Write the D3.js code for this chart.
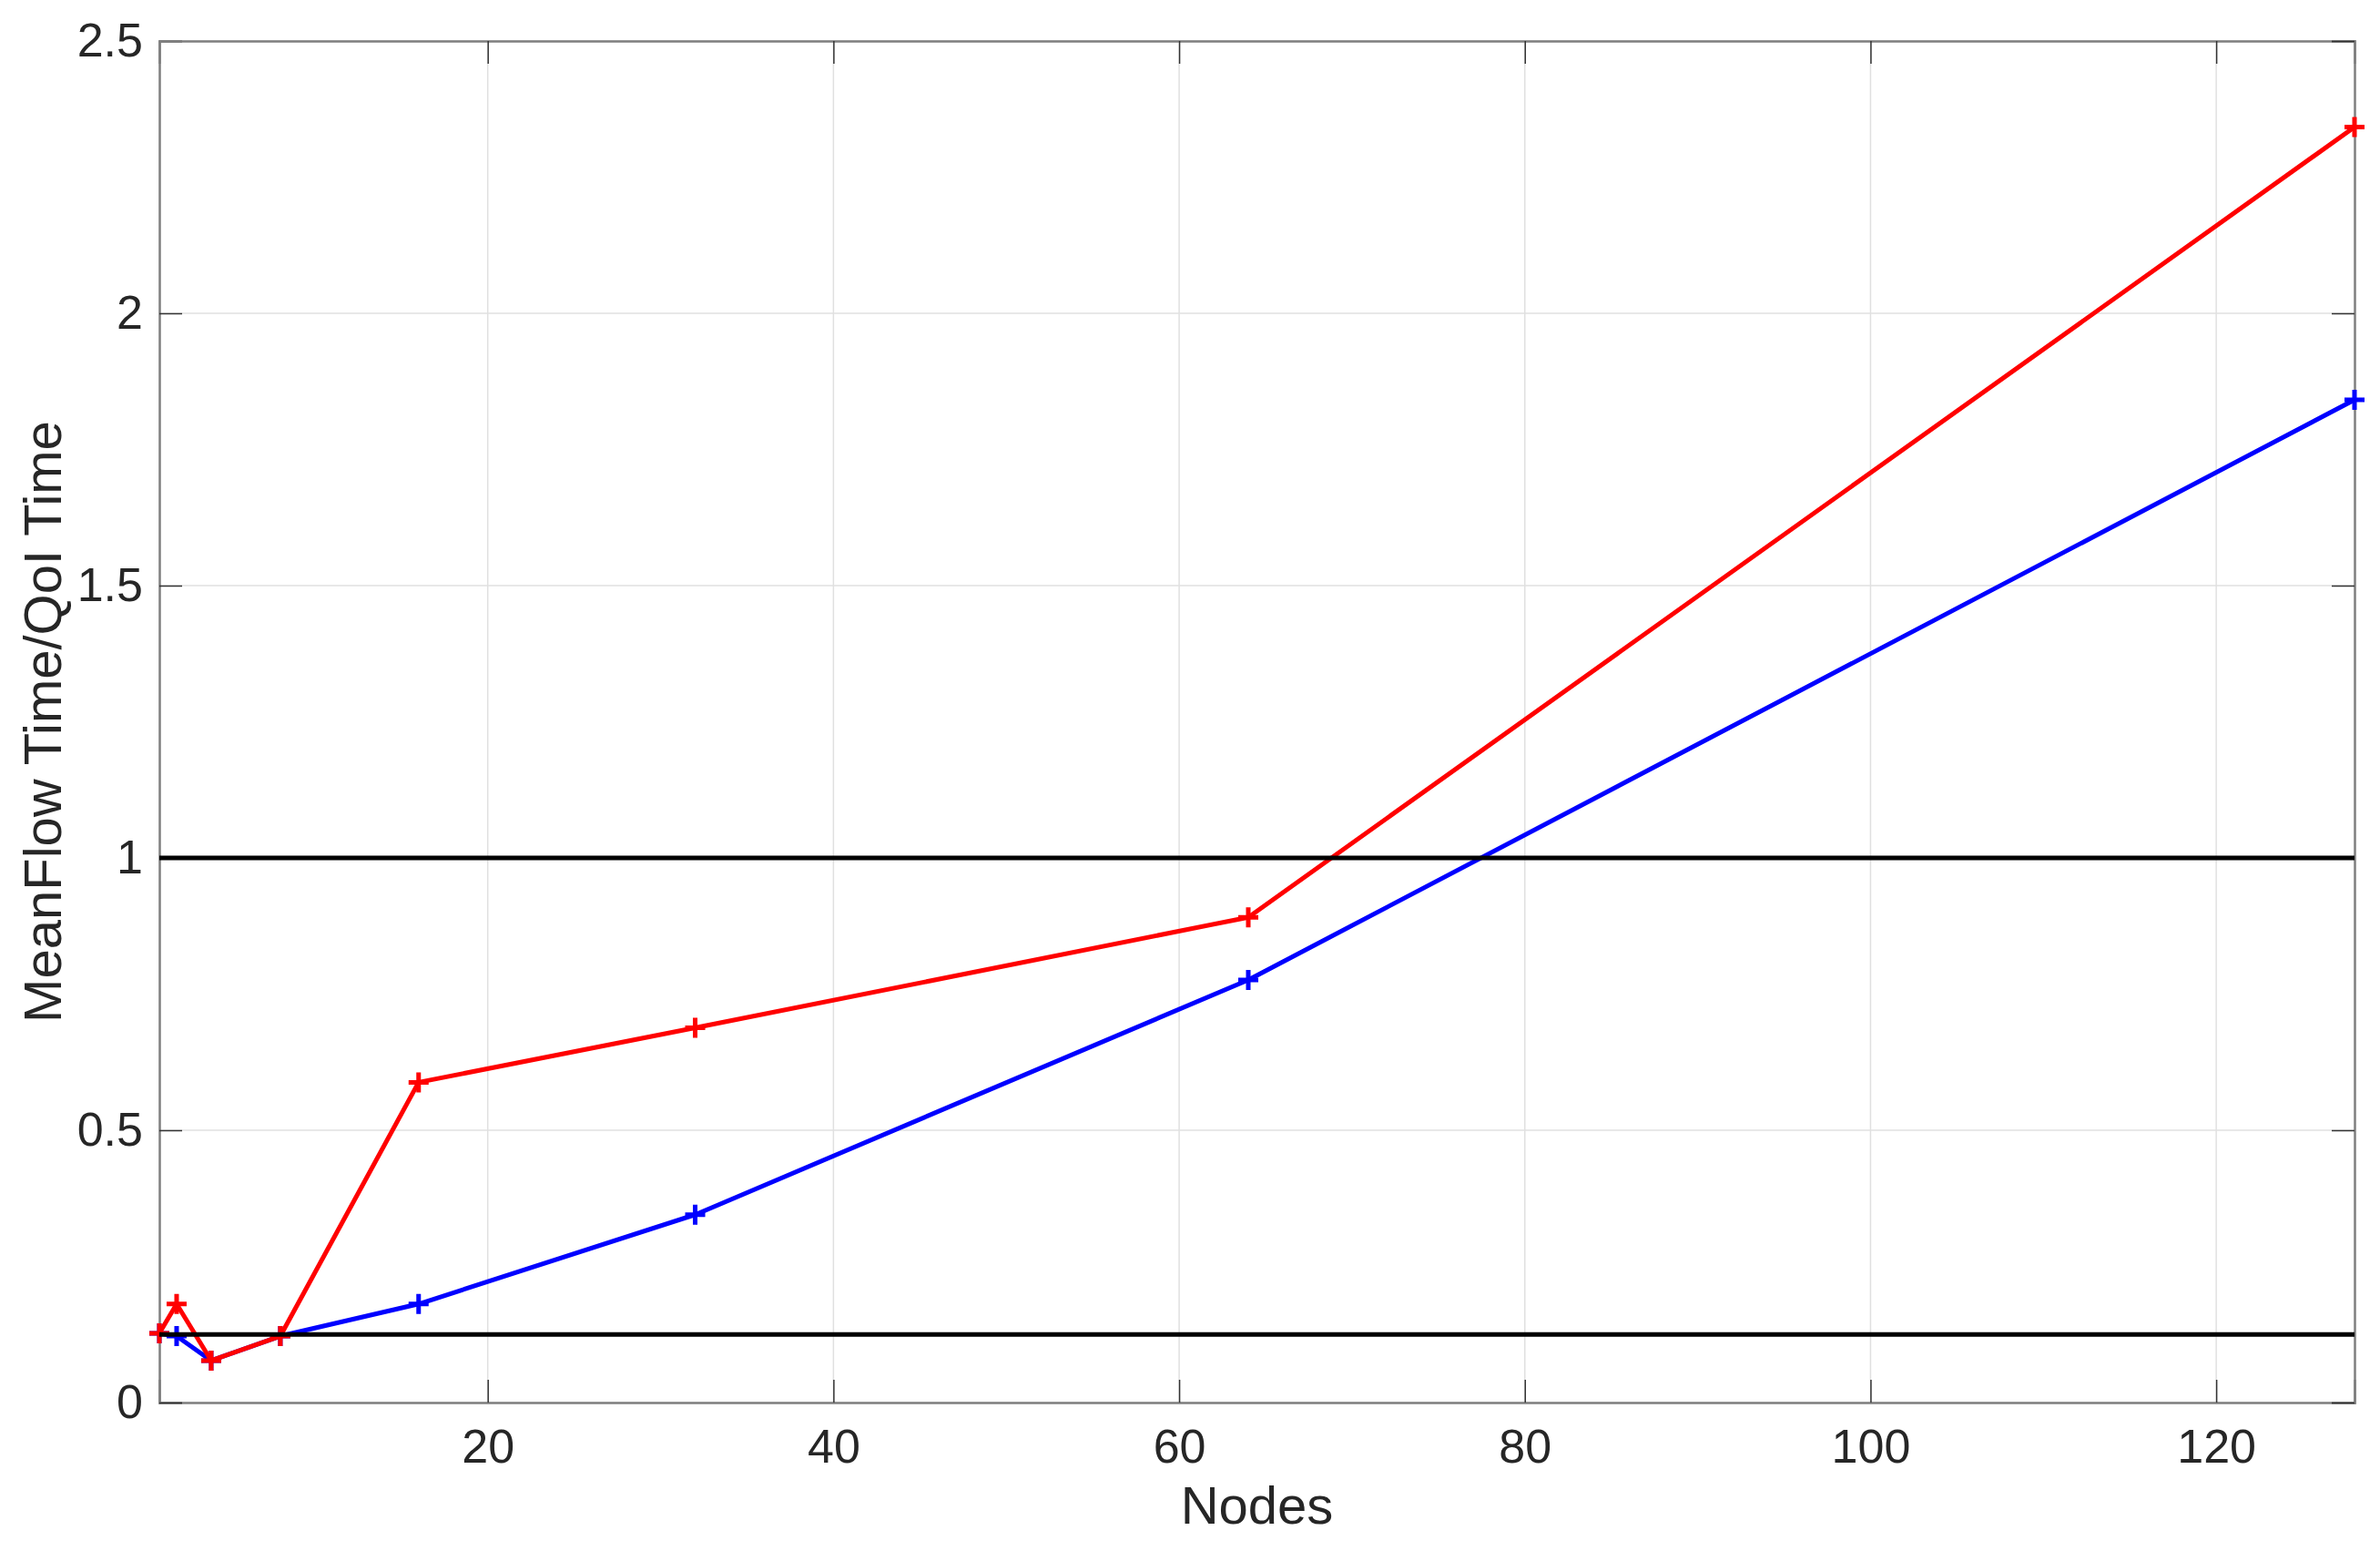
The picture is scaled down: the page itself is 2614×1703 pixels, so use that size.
<!DOCTYPE html>
<html>
<head>
<meta charset="utf-8">
<script src="https://cdn.jsdelivr.net/npm/d3@7"></script>
<style>
  body { margin: 0; background: #fff; }
  text { font-family: "Liberation Sans", Arial, sans-serif; fill: #262626; }
</style>
</head>
<body>
<svg id="chart" width="2614" height="1703"></svg>
<script>
const nodes = [1, 2, 4, 8, 16, 32, 64, 128];
const redSeries = [0.127, 0.181, 0.077, 0.122, 0.588, 0.688, 0.891, 2.342];
const blueSeries = [0.127, 0.122, 0.077, 0.122, 0.181, 0.345, 0.776, 1.841];
const refLines = [1, 0.125];
const xTicks = [20, 40, 60, 80, 100, 120];
const yTicks = [0, 0.5, 1, 1.5, 2, 2.5];

const svg = d3.select('#chart');
const margin = {left: 175, right: 28, top: 45, bottom: 163};
const width = +svg.attr('width');
const height = +svg.attr('height');

const x = d3.scaleLinear().domain([1, 128]).range([margin.left, width - margin.right]);
const y = d3.scaleLinear().domain([0, 2.5]).range([height - margin.bottom, margin.top]);

// grid
const grid = svg.append('g').attr('class', 'grid');
grid.selectAll('line.gx').data(xTicks).enter().append('line')
  .attr('x1', d => x(d)).attr('x2', d => x(d))
  .attr('y1', y(0)).attr('y2', y(2.5))
  .attr('stroke', '#e0e0e0').attr('stroke-width', 1.5);
grid.selectAll('line.gy').data(yTicks).enter().append('line')
  .attr('x1', x(1)).attr('x2', x(128))
  .attr('y1', d => y(d)).attr('y2', d => y(d))
  .attr('stroke', '#e0e0e0').attr('stroke-width', 1.5);

// axes (MATLAB style box with inward ticks)
const xAxis = d3.axisBottom(x).tickValues(xTicks).tickSize(-25).tickPadding(29).tickFormat(d3.format('d'));
const yAxis = d3.axisLeft(y).tickValues(yTicks).tickSize(-25).tickPadding(18).tickFormat(d => d);

const gx = svg.append('g').attr('transform', `translate(0,${y(0)})`).call(xAxis);
const gy = svg.append('g').attr('transform', `translate(${x(1)},0)`).call(yAxis);
const gxTop = svg.append('g').attr('transform', `translate(0,${y(2.5)})`)
  .call(d3.axisTop(x).tickValues(xTicks).tickSize(-25).tickFormat(''));
const gyRight = svg.append('g').attr('transform', `translate(${x(128)},0)`)
  .call(d3.axisRight(y).tickValues(yTicks).tickSize(-25).tickFormat(''));

[gx, gy, gxTop, gyRight].forEach(g => {
  g.select('.domain').attr('stroke', '#7f7f7f').attr('stroke-width', 2.5);
  g.selectAll('.tick line').attr('stroke', '#333').attr('stroke-width', 1.5);
  g.selectAll('.tick text').style('font-size', '52px').attr('fill', '#262626');
});

// series
const line = d3.line().x(d => x(d[0])).y(d => y(d[1]));
const series = [
  {vals: blueSeries, color: '#0000ff'},
  {vals: redSeries, color: '#ff0000'}
];
series.forEach(s => {
  const pts = nodes.map((n, i) => [n, s.vals[i]]);
  svg.append('path').datum(pts)
    .attr('d', line)
    .attr('fill', 'none')
    .attr('stroke', s.color)
    .attr('stroke-width', 5)
    .attr('stroke-linejoin', 'round');
  svg.append('g').selectAll('path').data(pts).enter().append('path')
    .attr('d', d => `M${x(d[0]) - 11},${y(d[1])}H${x(d[0]) + 11}M${x(d[0])},${y(d[1]) - 11}V${y(d[1]) + 11}`)
    .attr('stroke', s.color)
    .attr('stroke-width', 5);
});

// reference lines
svg.append('g').selectAll('line').data(refLines).enter().append('line')
  .attr('x1', x(1)).attr('x2', x(128))
  .attr('y1', d => y(d)).attr('y2', d => y(d))
  .attr('stroke', '#000').attr('stroke-width', 5);

// labels
svg.append('text')
  .attr('x', (x(1) + x(128)) / 2).attr('y', 1673)
  .attr('text-anchor', 'middle')
  .style('font-size', '58px')
  .text('Nodes');
svg.append('text')
  .attr('transform', `translate(67,${(y(0) + y(2.5)) / 2}) rotate(-90)`)
  .attr('text-anchor', 'middle')
  .style('font-size', '58px')
  .text('MeanFlow Time/QoI Time');
</script>
</body>
</html>
